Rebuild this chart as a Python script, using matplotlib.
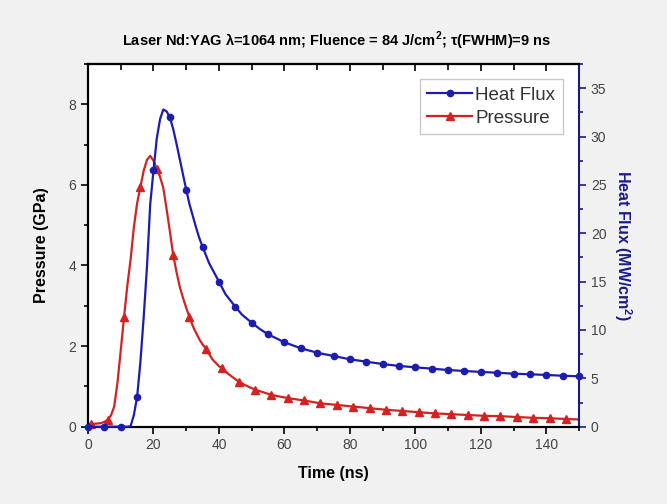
import matplotlib
matplotlib.use("Agg")
import matplotlib.pyplot as plt
from matplotlib.ticker import MultipleLocator

plt.rcParams['font.family'] = ['Liberation Sans', 'DejaVu Sans']
plt.rcParams['mathtext.fontset'] = 'custom'
plt.rcParams['mathtext.rm'] = 'Liberation Sans'
plt.rcParams['mathtext.bf'] = 'Liberation Sans:bold'

# Pressure (GPa) vs time (ns)
time_p = [0, 1, 2, 3, 4, 5, 6, 7, 8, 9, 10, 11, 12, 13, 14, 15, 16, 17, 18, 19,
          20, 21, 22, 23, 24, 25, 26, 27, 28, 29, 30, 31, 32, 33, 34, 35, 36,
          38, 40, 41, 43, 46, 48, 51, 56, 61, 66, 71, 76, 81, 86, 91, 96, 101,
          106, 111, 116, 121, 126, 131, 136, 141, 146, 150]
pressure = [0.07, 0.07, 0.07, 0.08, 0.09, 0.12, 0.17, 0.28, 0.5, 1.1, 1.9, 2.72,
            3.5, 4.15, 4.95, 5.55, 5.95, 6.35, 6.62, 6.72, 6.6, 6.4, 6.2, 5.92,
            5.4, 4.85, 4.27, 3.85, 3.48, 3.2, 2.95, 2.72, 2.5, 2.33, 2.17, 2.04,
            1.94, 1.67, 1.5, 1.45, 1.3, 1.12, 1.03, 0.92, 0.79, 0.71, 0.65,
            0.58, 0.54, 0.50, 0.46, 0.42, 0.39, 0.36, 0.33, 0.31, 0.29, 0.27,
            0.26, 0.24, 0.22, 0.21, 0.19, 0.18]
pressure_marker_times = [1 + 5 * k for k in range(30)]

# Heat flux (MW/cm2) vs time (ns)
time_h = [0, 5, 10, 12, 13, 14, 15, 16, 17, 18, 19, 20, 21, 22, 23, 24, 25, 26,
          27, 28, 29, 30, 31, 32, 33, 34, 35, 37, 40, 42, 45, 47, 50, 52.5, 55,
          60, 65, 70, 75, 80, 85, 90, 95, 100, 105, 110, 115, 120, 125, 130,
          135, 140, 145, 150]
heat_flux = [0, 0, 0, 0, 0.05, 1.2, 3.1, 6.7, 11.3, 16.5, 23.0, 26.5, 29.8,
             31.8, 32.8, 32.6, 32.0, 30.8, 29.3, 27.7, 26.1, 24.5, 23.0, 21.8,
             20.6, 19.5, 18.6, 16.9, 15.0, 13.7, 12.4, 11.6, 10.75, 10.1, 9.55,
             8.73, 8.11, 7.65, 7.31, 6.97, 6.72, 6.48, 6.28, 6.14, 6.0, 5.86,
             5.76, 5.66, 5.58, 5.48, 5.42, 5.35, 5.27, 5.21]
heat_marker_times = [5 * k for k in range(31)]

red = '#d42222'
blue = '#1c1cb0'
navy = '#1a1a8a'

fig = plt.figure(figsize=(6.67, 5.04), dpi=100, facecolor='#f1f1f1')
ax = fig.add_axes([0.132, 0.1534, 0.736, 0.7196])
ax.set_facecolor('white')
ax2 = ax.twinx()

p_idx = [i for i, t in enumerate(time_p) if t in pressure_marker_times]
h_idx = [i for i, t in enumerate(time_h) if t in heat_marker_times]

lp, = ax.plot(time_p, pressure, color=red, lw=1.6, marker='^', ms=5.5,
              markevery=p_idx, label='Pressure', clip_on=False, zorder=3)
lh, = ax2.plot(time_h, heat_flux, color=blue, lw=1.6, marker='o', ms=4.5,
               markevery=h_idx, label='Heat Flux', clip_on=False, zorder=3)

ax.set_xlim(0, 150)
ax.set_ylim(0, 9)
ax2.set_ylim(0, 37.5)

ax.xaxis.set_major_locator(MultipleLocator(20))
ax.xaxis.set_minor_locator(MultipleLocator(10))
ax.yaxis.set_major_locator(MultipleLocator(2))
ax.yaxis.set_minor_locator(MultipleLocator(1))
ax2.yaxis.set_major_locator(MultipleLocator(5))
ax2.yaxis.set_minor_locator(MultipleLocator(2.5))

ax.tick_params(axis='x', which='both', direction='out', labelsize=10,
               labelcolor='#444444', width=1.2)
ax.tick_params(axis='x', which='major', length=5)
ax.tick_params(axis='x', which='minor', length=3)
ax.tick_params(axis='y', which='both', direction='out', labelsize=10,
               labelcolor='#444444', width=1.2)
ax.tick_params(axis='y', which='major', length=5)
ax.tick_params(axis='y', which='minor', length=3)
ax2.tick_params(axis='y', which='both', direction='out', labelsize=10,
                labelcolor='#444444', color=navy, width=1.2)
ax2.tick_params(axis='y', which='major', length=5)
ax2.tick_params(axis='y', which='minor', length=3)

top = ax.secondary_xaxis('top')
top.xaxis.set_major_locator(MultipleLocator(20))
top.xaxis.set_minor_locator(MultipleLocator(10))
top.tick_params(axis='x', which='both', direction='in', labeltop=False, width=1.2)
top.tick_params(axis='x', which='major', length=5)
top.tick_params(axis='x', which='minor', length=4)
top.spines['top'].set_linewidth(1.5)

for s in ['left', 'top', 'bottom']:
    ax.spines[s].set_linewidth(1.5)
    ax2.spines[s].set_linewidth(1.5)
ax2.spines['right'].set_color(navy)
ax2.spines['right'].set_linewidth(1.5)
ax.spines['right'].set_visible(False)

ax.set_xlabel('Time (ns)', fontsize=11.5, fontweight='bold', labelpad=10)
ax.set_ylabel('Pressure (GPa)', fontsize=11.5, fontweight='bold', labelpad=14)
ax2.set_ylabel(r'Heat Flux (MW/cm$^\mathbf{2}$)', fontsize=11.5,
               fontweight='bold', color=navy, rotation=270, labelpad=20)

fig.text(0.505, 0.918,
         r'Laser Nd:YAG λ=1064 nm; Fluence = 84 J/cm$^\mathbf{2}$; τ(FWHM)=9 ns',
         ha='center', va='center', fontsize=10.5, fontweight='bold')

leg = ax2.legend(handles=[lh, lp], loc='upper right', bbox_to_anchor=(0.967, 0.958),
                 fontsize=13.5, frameon=True, fancybox=False, handlelength=2.4,
                 handletextpad=0.15, borderpad=0.4, labelspacing=0.3,
                 borderaxespad=0)
leg.get_frame().set_edgecolor('#bbbbbb')
leg.get_frame().set_linewidth(1.0)
for t in leg.get_texts():
    t.set_color('#333333')

fig.savefig('out.png', dpi=100, facecolor=fig.get_facecolor())
